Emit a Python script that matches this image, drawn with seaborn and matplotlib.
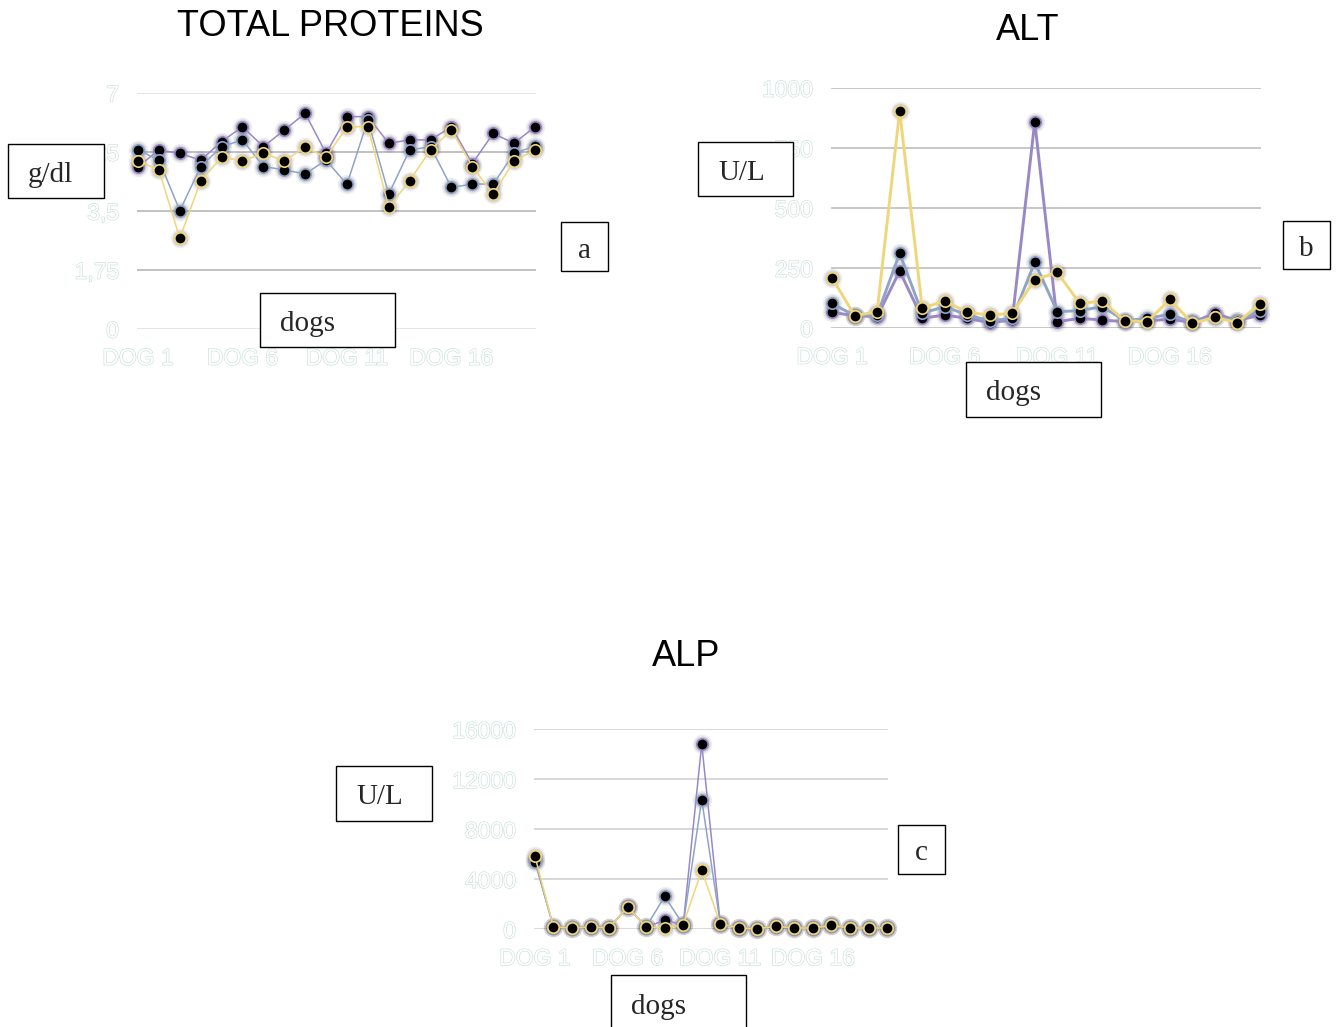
import numpy as np
import pandas as pd
import matplotlib
matplotlib.use("Agg")
import matplotlib.pyplot as plt
import matplotlib.patheffects as pe
from matplotlib.patches import Rectangle
import seaborn as sns

# ---- data -------------------------------------------------------------
dogs = ["DOG 1", "DOG 2", "DOG 3", "DOG 4", "DOG 5", "DOG 6", "DOG 7",
        "DOG 8", "DOG 9", "DOG 10", "DOG 11", "DOG 12", "DOG 13", "DOG 14",
        "DOG 15", "DOG 16", "DOG 17", "DOG 18", "DOG 19", "DOG 20"]
series_names = ["T0", "T1", "T2"]

tp_t0 = [4.81, 5.30, 5.20, 5.00, 5.55, 5.99, 5.40, 5.89, 6.39, 5.20,
         6.29, 6.29, 5.50, 5.60, 5.60, 5.99, 4.90, 5.79, 5.50, 5.99]
tp_t1 = [5.30, 5.00, 3.50, 4.81, 5.40, 5.60, 4.81, 4.71, 4.59, 5.00,
         4.28, 6.19, 3.99, 5.30, 5.40, 4.19, 4.29, 4.29, 5.20, 5.42]
tp_t2 = [4.98, 4.71, 2.68, 4.39, 5.08, 4.98, 5.20, 4.98, 5.38, 5.08,
         5.99, 5.99, 3.60, 4.39, 5.30, 5.89, 4.81, 3.99, 4.98, 5.30]

alt_t0 = [64, 50, 46, 236, 39, 53, 39, 21, 32, 858,
          25, 39, 32, 25, 29, 35, 22, 60, 29, 53]
alt_t1 = [101, 50, 53, 310, 60, 88, 53, 29, 39, 272,
          67, 71, 88, 29, 39, 56, 22, 46, 29, 71]
alt_t2 = [208, 50, 67, 904, 81, 112, 64, 53, 60, 199,
          231, 101, 111, 29, 25, 118, 18, 43, 21, 99]

alp_t0 = [5500, 160, 80, 160, 80, 1760, 160, 693, 347, 14800,
          427, 80, 27, 213, 80, 80, 293, 80, 80, 80]
alp_t1 = [5400, 160, 80, 160, 80, 1760, 160, 2613, 347, 10347,
          427, 80, 27, 213, 80, 80, 293, 80, 80, 80]
alp_t2 = [5813, 160, 80, 160, 80, 1760, 160, 80, 347, 4693,
          427, 80, 27, 213, 80, 80, 293, 80, 80, 80]

tp_ticks = [0, 1.75, 3.5, 5.25, 7]
tp_ticklabels = ["0", "1,75", "3,5", "5,25", "7"]
alt_ticks = [0, 250, 500, 750, 1000]
alt_ticklabels = ["0", "250", "500", "750", "1000"]
alp_ticks = [0, 4000, 8000, 12000, 16000]
alp_ticklabels = ["0", "4000", "8000", "12000", "16000"]
xtick_idx = [0, 5, 10, 15]

palette = {"T0": "#9a88c6", "T1": "#8ea4c6", "T2": "#f0d67a"}

# ---- figure ----------------------------------------------------------
sns.set_theme(style="white")
plt.rcParams["font.family"] = ["Liberation Sans", "DejaVu Sans"]

W, H = 1338, 1027
fig = plt.figure(figsize=(W / 100, H / 100), dpi=100)
fig.patch.set_facecolor("white")


def px_axes(x0, y0, x1, y1):
    """Axes from pixel box (top-left origin)."""
    return fig.add_axes([x0 / W, 1 - y1 / H, (x1 - x0) / W, (y1 - y0) / H])


# white lettering with a faint tinted outline
ghost = [pe.withStroke(linewidth=0.9, foreground="#c9e0d8")]


def draw_panel(ax, values, ticks, ticklabels, lw, grid_colors):
    df = pd.DataFrame({
        "dog": np.tile(np.arange(len(dogs)), 3),
        "value": np.concatenate(values),
        "series": np.repeat(series_names, len(dogs)),
    })
    # soft dark halo behind every marker
    for size, alpha in [(14, 0.07), (11.5, 0.12)]:
        sns.scatterplot(data=df, x="dog", y="value", ax=ax, s=size ** 2,
                        color="#1c1c30", alpha=alpha, linewidth=0,
                        legend=False, zorder=2, clip_on=False)
    sns.lineplot(data=df, x="dog", y="value", hue="series", palette=palette,
                 hue_order=series_names, legend=False, ax=ax, lw=lw,
                 marker="o", markersize=8.2, markerfacecolor="black",
                 markeredgewidth=1.2, estimator=None, sort=False)
    for line in ax.lines:
        line.set_markeredgecolor(line.get_color())
        line.set_zorder(3)
        line.set_clip_on(False)
    ax.set_xlim(-0.05, len(dogs) - 0.95)
    ax.set_ylim(ticks[0], ticks[-1])
    ax.set_yticks(ticks)
    ax.set_yticklabels(ticklabels)
    ax.set_xticks(xtick_idx)
    ax.set_xticklabels([dogs[i] for i in xtick_idx])
    for t, c in zip(ticks, grid_colors):
        ax.axhline(t, color=c, lw=1.3, zorder=1)
    for s in ax.spines.values():
        s.set_visible(False)
    ax.tick_params(axis="y", length=0, pad=13, labelsize=16.5, labelcolor="white")
    ax.tick_params(axis="x", length=0, pad=13, labelsize=16.5, labelcolor="white")
    for lab in ax.get_xticklabels() + ax.get_yticklabels():
        lab.set_path_effects(ghost)
    ax.set_xlabel("")
    ax.set_ylabel("")
    ax.set_facecolor("none")


# panel a: total proteins
ax_a = px_axes(137, 92.7, 536, 328.7)
draw_panel(ax_a, [tp_t0, tp_t1, tp_t2], tp_ticks, tp_ticklabels, 1.1,
           ["#e2e2e2", "#bcbcbc", "#bcbcbc", "#bcbcbc", "#e2e2e2"])

# panel b: ALT
ax_b = px_axes(831, 87.7, 1261, 327.7)
draw_panel(ax_b, [alt_t0, alt_t1, alt_t2], alt_ticks, alt_ticklabels, 2.1,
           ["#c4c4c4"] * 5)

# panel c: ALP
ax_c = px_axes(534, 729, 888, 929)
draw_panel(ax_c, [alp_t0, alp_t1, alp_t2], alp_ticks, alp_ticklabels, 1.1,
           ["#d6d6d6"] * 5)

# titles
fig.text(330 / W, 1 - 26 / H, "TOTAL PROTEINS", ha="center", va="center",
         fontsize=26, color="black")
fig.text(1028 / W, 1 - 31 / H, "ALT", ha="center", va="center",
         fontsize=26, color="black")
fig.text(686 / W, 1 - 657 / H, "ALP", ha="center", va="center",
         fontsize=26, color="black")


def label_box(x0, y0, x1, y1, text, align="left"):
    rect = Rectangle((x0 / W, 1 - y1 / H), (x1 - x0) / W, (y1 - y0) / H,
                     transform=fig.transFigure, facecolor="white",
                     edgecolor="black", lw=1.0, zorder=10)
    fig.add_artist(rect)
    cy = 1 - ((y0 + y1) / 2 + 4) / H
    if align == "center":
        tx, ha = (x0 + x1) / 2 / W, "center"
    else:
        tx, ha = (x0 + 20) / W, "left"
    fig.text(tx, cy, text, ha=ha, va="center", fontsize=21,
             family=["Liberation Serif", "DejaVu Serif"], zorder=11)


label_box(8, 144, 104, 198, "g/dl")
label_box(260, 293, 395, 347, "dogs")
label_box(561, 222, 608, 271, "a", align="center")
label_box(698, 142, 793, 196, "U/L")
label_box(966, 362, 1101, 417, "dogs")
label_box(1283, 221, 1330, 269, "b", align="center")
label_box(336, 766, 432, 821, "U/L")
label_box(611, 975, 746, 1030, "dogs")
label_box(898, 825, 945, 874, "c", align="center")

fig.savefig("out.png", dpi=100, facecolor="white")
